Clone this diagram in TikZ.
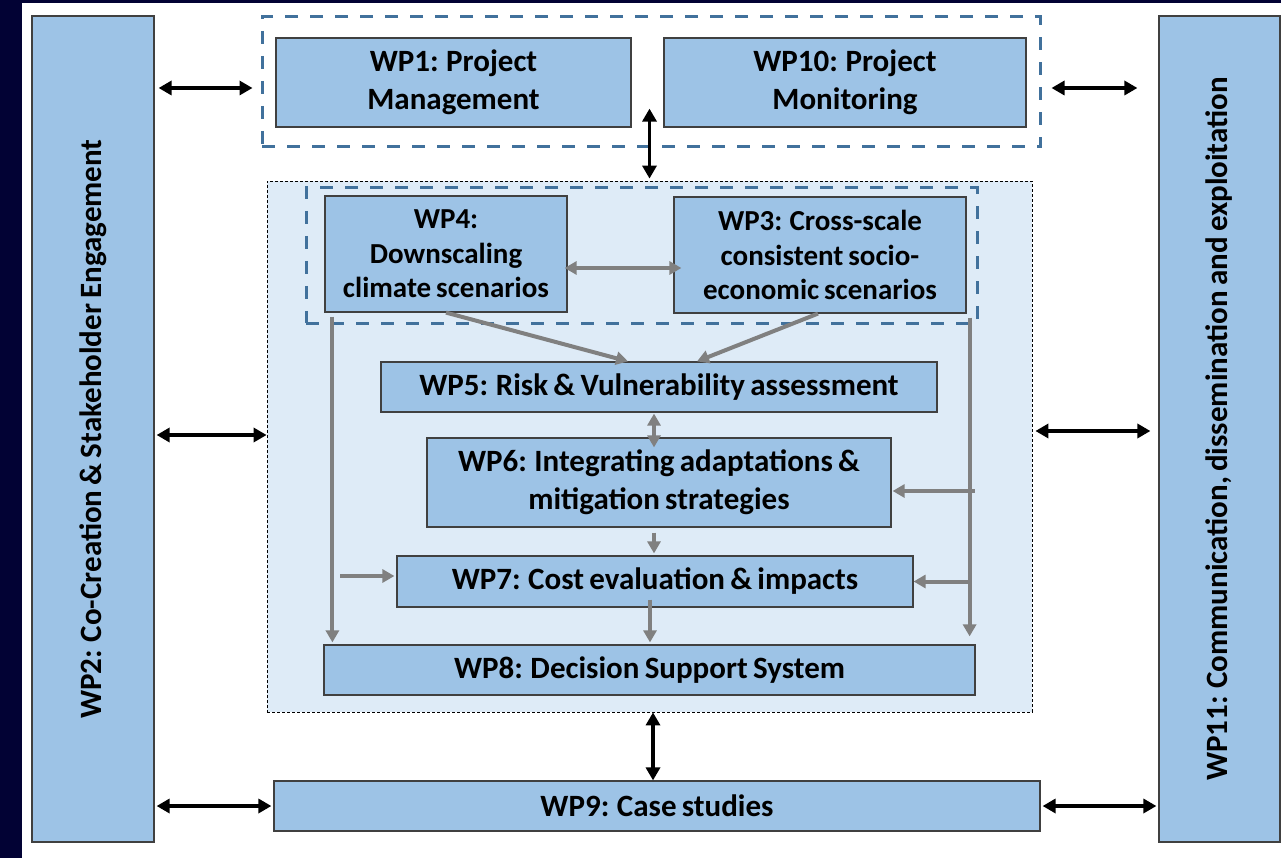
\documentclass[tikz,border=0pt]{standalone}
\usepackage{fontspec}
\setmainfont{Carlito}
\usetikzlibrary{arrows.meta}
\definecolor{navyframe}{RGB}{2,2,52}
\definecolor{wpfill}{RGB}{157,195,230}
\definecolor{panelfill}{RGB}{222,235,247}
\definecolor{grpblue}{RGB}{65,113,156}
\definecolor{boxline}{RGB}{64,64,64}
\definecolor{flowgray}{RGB}{128,128,128}
% bold label font with slightly tighter word spacing
\newcommand\wpfont[2]{\fontsize{#1}{#2}\selectfont\bfseries\spaceskip=0.17em plus 0.05em\relax}
\begin{document}
\begin{tikzpicture}[x=1pt,y=-1pt,
  wp/.style={draw=boxline, line width=1.2pt, fill=wpfill, inner sep=0pt, align=center},
  fa/.style={font=\wpfont{31}{38}},
  fb/.style={font=\wpfont{29}{34.5}},
  grp/.style={draw=grpblue, line width=3pt, dash pattern=on 13pt off 12pt, inner sep=0pt},
  panelbox/.style={draw=black, fill=panelfill, line width=0.8pt, dash pattern=on 3pt off 2pt, inner sep=0pt},
  barrow/.style={{Triangle[length=13pt,width=14pt]}-{Triangle[length=13pt,width=14pt]}, line width=3.5pt, black},
  garrow/.style={-{Triangle[length=12pt,width=13pt]}, line width=4pt, flowgray},
  gdouble/.style={{Triangle[length=12pt,width=13pt]}-{Triangle[length=12pt,width=13pt]}, line width=4pt, flowgray}]

\useasboundingbox (0,0) rectangle (1281,858);
% dark frame and white sheet
\fill[navyframe] (0,0) rectangle (1281,858);
\fill[white] (22,3) rectangle (1281,858);

% side work packages
\node[wp, minimum width=122pt, minimum height=826pt] (wp2) at (93,429)
  {\rotatebox{90}{\wpfont{31}{38}WP2: Co-Creation \& Stakeholder Engagement}};
\node[wp, minimum width=121pt, minimum height=826pt] (wp11) at (1219.5,429)
  {\rotatebox{90}{\wpfont{31}{38}WP11: Communication, dissemination and exploitation}};

% management group
\node[grp, minimum width=778pt, minimum height=130pt] (top) at (651,82) {};
\node[wp, fa, minimum width=355pt, minimum height=89pt] (wp1) at (453.5,82.5) {WP1: Project\\Management};
\node[wp, fa, minimum width=362pt, minimum height=89pt] (wp10) at (845,82.5) {WP10: Project\\Monitoring};

% research panel
\node[panelbox, minimum width=765pt, minimum height=531pt] (panel) at (649.5,446.5) {};
\node[grp, minimum width=671pt, minimum height=135pt] (scen) at (641.5,255.5) {};
\node[wp, fb, minimum width=242pt, minimum height=116pt] (wp4) at (446,254) {WP4:\\Downscaling\\climate scenarios};
\node[wp, fb, minimum width=292pt, minimum height=116pt] (wp3) at (820,255) {WP3: Cross-scale\\consistent socio-\\economic scenarios};
\node[wp, fa, minimum width=556pt, minimum height=50pt] (wp5) at (659,387) {WP5: Risk \& Vulnerability assessment};
\node[wp, fa, minimum width=464pt, minimum height=89pt] (wp6) at (659,482.5) {WP6: Integrating adaptations \&\\mitigation strategies};
\node[wp, fa, minimum width=516pt, minimum height=51pt] (wp7) at (655,581.5) {WP7: Cost evaluation \& impacts};
\node[wp, fa, minimum width=651pt, minimum height=50pt] (wp8) at (649.5,670) {WP8: Decision Support System};

% case studies
\node[wp, fa, minimum width=766pt, minimum height=50pt] (wp9) at (657,806) {WP9: Case studies};

% two-way links between work packages
\draw[barrow] ([xshift=4pt,yshift=-6pt]wp2.east |- top.west) -- ([xshift=-8pt,yshift=-6pt]top.west);
\draw[barrow] ([xshift=10pt,yshift=-6pt]top.east) -- ([xshift=-21pt,yshift=-6pt]wp11.west |- top.east);
\draw[barrow] ([xshift=2pt,yshift=11.5pt]wp2.east |- panel.west) -- ([yshift=11.5pt]panel.west);
\draw[barrow] ([xshift=3pt,yshift=15.5pt]panel.east) -- ([xshift=-8pt,yshift=15.5pt]wp11.west |- panel.east);
\draw[barrow] ([xshift=2pt]wp2.east |- wp9.west) -- ([xshift=-2pt]wp9.west);
\draw[barrow] ([xshift=2pt]wp9.east) -- ([xshift=-2pt]wp11.west |- wp9.east);
\draw[barrow] ([yshift=19pt]panel.north |- wp1.south) -- ([yshift=2pt]panel.north);
\draw[barrow] ([xshift=3.5pt]panel.south) -- ([xshift=3.5pt]panel.south |- wp9.north);

% flows inside the panel
\draw[garrow] (wp4.south) -- ([xshift=-31pt]wp5.north);
\draw[garrow] ([xshift=-2pt]wp3.south) -- ([xshift=38pt]wp5.north);
\draw[gdouble] ([xshift=-3pt,yshift=-14pt]wp4.east) -- ([xshift=8pt,yshift=-14pt]wp4.east -| wp3.west);
\draw[gdouble] ([xshift=-5pt,yshift=-1pt]wp5.south) -- ([xshift=-5pt,yshift=-10pt]wp5.south |- wp6.north);
\draw[garrow] ([xshift=-5pt,yshift=-5pt]wp6.south) -- ([xshift=-5pt,yshift=2pt]wp6.south |- wp7.north);
\draw[garrow] ([xshift=-5pt,yshift=8pt]wp7.south) -- ([xshift=-5pt,yshift=2pt]wp7.south |- wp8.north);
\draw[garrow] ([xshift=8pt,yshift=-4pt]wp4.south west) -- ([xshift=8pt,yshift=2pt]wp4.south west |- wp8.north);
\draw[garrow] ([xshift=-56pt,yshift=5.5pt]wp7.west) -- ([xshift=-2pt,yshift=5.5pt]wp7.west);
\draw[garrow] ([xshift=3pt,yshift=-4pt]wp3.south east) -- ([xshift=3pt,yshift=8pt]wp3.south east |- wp8.north);
\draw[garrow] ([xshift=83pt,yshift=-8.5pt]wp6.east) -- ([xshift=1pt,yshift=-8.5pt]wp6.east);
\draw[garrow] ([xshift=56pt]wp7.east) -- (wp7.east);
\end{tikzpicture}
\end{document}
